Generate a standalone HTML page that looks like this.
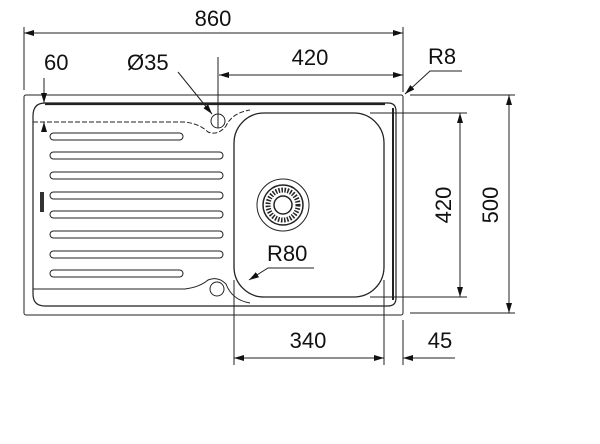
<!DOCTYPE html>
<html><head><style>body{margin:0;background:#fff}svg{display:block}text{font-family:"Liberation Sans",sans-serif;font-size:22px;fill:#111}</style></head>
<body>
<svg width="600" height="444" viewBox="0 0 600 444">
<defs>
<marker id="a" viewBox="0 0 10 6" refX="10" refY="3" markerWidth="10" markerHeight="6" orient="auto-start-reverse" markerUnits="userSpaceOnUse"><path d="M0,0L10,3L0,6z" fill="#111"/></marker>
</defs>
<g stroke="#222" fill="none" stroke-width="1">
<rect x="24" y="95" width="379" height="220" rx="2"/>
<path d="M45,103 L388,103 Q396,103 396,111 L396,298 Q396,306 388,306 L45,306 Q33,306 33,294 L33,116 Q33,103 45,103" stroke-width="1.2"/>
<path d="M45,104 L385,104" stroke-width="2.2"/>
<path d="M393,108 L393,300" stroke-width="2"/>
<path d="M33,122 L185,122 Q200,124 208,132 Q218,136 226,126 Q232,113 250,110" stroke-dasharray="5,2"/>
<path d="M33,289 L185,289 Q200,287 208,280 Q218,276 226,284 Q232,300 250,303" />
<rect x="234" y="113" width="150" height="184" rx="30" stroke-width="1.3"/>
<circle cx="218" cy="121" r="7"/>
<circle cx="217" cy="289" r="7"/>
<rect x="50" y="133" width="133" height="7" rx="3.5"/>
<rect x="50" y="152" width="173" height="7" rx="3.5"/>
<rect x="50" y="172" width="173" height="7" rx="3.5"/>
<rect x="50" y="192" width="173" height="7" rx="3.5"/>
<rect x="50" y="211" width="173" height="7" rx="3.5"/>
<rect x="50" y="231" width="173" height="7" rx="3.5"/>
<rect x="50" y="251" width="173" height="7" rx="3.5"/>
<rect x="50" y="270" width="133" height="7" rx="3.5"/>
<circle cx="283" cy="205" r="26"/>
<circle cx="283" cy="205" r="20" stroke-width="1.5"/>
<circle cx="283" cy="205" r="15" stroke-width="5" stroke-dasharray="1.5,1.5"/>
<circle cx="283" cy="205" r="9" stroke-width="1.5"/>
<path d="M24,27 L24,90 M403,27 L403,92"/>
<path d="M24,33 L403,33" marker-start="url(#a)" marker-end="url(#a)"/>
<path d="M218,57 L218,128"/>
<path d="M219,75 L403,75" marker-start="url(#a)" marker-end="url(#a)"/>
<path d="M44,78 L44,103" marker-end="url(#a)"/>
<path d="M44,130 L44,122" marker-end="url(#a)"/>
<path d="M178,72 L212,114" marker-end="url(#a)"/>
<path d="M462,71 L430,71 L405,94" marker-end="url(#a)"/>
<path d="M410,95 L515,95 M410,313 L515,313 M370,113 L467,113 M370,297 L467,297"/>
<path d="M509,95 L509,313" marker-start="url(#a)" marker-end="url(#a)"/>
<path d="M460,113 L460,297" marker-start="url(#a)" marker-end="url(#a)"/>
<path d="M234,280 L234,365 M384,280 L384,365 M403,320 L403,365"/>
<path d="M234,358 L384,358" marker-start="url(#a)" marker-end="url(#a)"/>
<path d="M455,358 L403,358" marker-end="url(#a)"/>
<path d="M314,268 L268,268 L249,280" marker-end="url(#a)"/>
</g>
<text x="213" y="26" text-anchor="middle">860</text>
<text x="44" y="70">60</text>
<text x="127" y="70">Ø35</text>
<text x="310" y="65" text-anchor="middle">420</text>
<text x="428" y="64">R8</text>
<text x="267" y="261">R80</text>
<text x="308" y="348" text-anchor="middle">340</text>
<text x="440" y="348" text-anchor="middle">45</text>
<text transform="translate(451,205) rotate(-90)" text-anchor="middle">420</text>
<text transform="translate(498,205) rotate(-90)" text-anchor="middle">500</text>
<rect x="40" y="192" width="4" height="20" fill="#333"/>
</svg>
</body></html>
